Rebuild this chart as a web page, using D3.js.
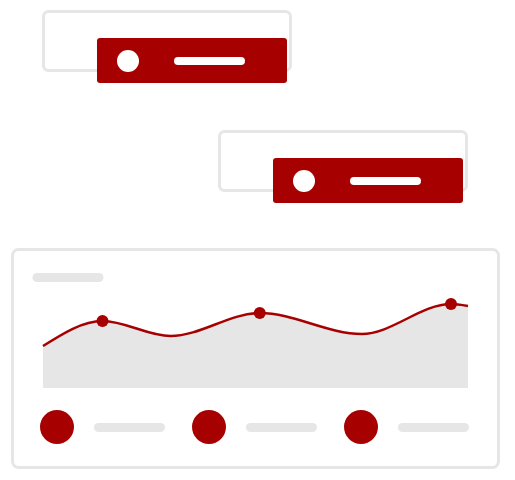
<!DOCTYPE html>
<html>
<head>
<meta charset="utf-8">
<script src="https://cdn.jsdelivr.net/npm/d3@7"></script>
<style>
  body { margin: 0; background: #fff; }
</style>
</head>
<body>
<script>
// wave values (0-100 units on both axes)
let waveX = [0, 14, 30, 51, 75, 96, 100];
let waveY = [42, 67, 52, 75, 54, 84, 82];
// which wave points get a marker dot
let markerIdx = [1, 3, 5];
// legend items below the chart
let legendItems = ["a", "b", "c"];
// notification cards
let cards = ["card1", "card2"];

let red = "#a60000";
let grey = "#e6e6e6";

let svg = d3.select("body")
            .append("svg")
            .attr("width", 515)
            .attr("height", 480);

/*
 *  C A R D S
 */
let cardPos = d3.scaleOrdinal().domain(cards).range([[42, 10], [218, 130]]);

let cardG = svg.selectAll("g.card")
               .data(cards)
               .enter()
               .append("g")
                 .attr("class", "card")
                 .attr("transform", d => "translate(" + cardPos(d)[0] + "," + cardPos(d)[1] + ")");

cardG.append("rect") // grey outline behind
     .attr("x", 1.5).attr("y", 1.5)
     .attr("width", 247).attr("height", 59)
     .attr("rx", 5)
     .style("fill", "#fff")
     .style("stroke", grey)
     .style("stroke-width", 3);

cardG.append("rect") // red banner
     .attr("x", 55).attr("y", 28)
     .attr("width", 190).attr("height", 45)
     .attr("rx", 3)
     .style("fill", red);

cardG.append("circle")
     .attr("cx", 86).attr("cy", 51)
     .attr("r", 11)
     .style("fill", "#fff");

cardG.append("line")
     .attr("x1", 136).attr("x2", 199)
     .attr("y1", 51).attr("y2", 51)
     .style("stroke", "#fff")
     .style("stroke-width", 8)
     .style("stroke-linecap", "round");

/*
 *  C H A R T   P A N E L
 */
svg.append("rect")
   .attr("x", 12.5).attr("y", 249.5)
   .attr("width", 486).attr("height", 218)
   .attr("rx", 6)
   .style("fill", "#fff")
   .style("stroke", grey)
   .style("stroke-width", 3);

// title placeholder
svg.append("line")
   .attr("x1", 37).attr("x2", 99)
   .attr("y1", 277.5).attr("y2", 277.5)
   .style("stroke", grey)
   .style("stroke-width", 9)
   .style("stroke-linecap", "round");

let xscale = d3.scaleLinear().domain([0, 100]).range([43, 468]);
let yscale = d3.scaleLinear().domain([0, 100]).range([388, 288]);

let pts = waveX.map((x, i) => ({x: x, y: waveY[i]}));

let area = d3.area()
             .x(d => xscale(d.x))
             .y0(yscale(0))
             .y1(d => yscale(d.y))
             .curve(d3.curveMonotoneX);
let line = d3.line()
             .x(d => xscale(d.x))
             .y(d => yscale(d.y))
             .curve(d3.curveMonotoneX);

svg.append("path")
   .datum(pts)
   .attr("d", area)
   .style("fill", grey);

svg.append("path")
   .datum(pts)
   .attr("d", line)
   .style("fill", "none")
   .style("stroke", red)
   .style("stroke-width", 2.5);

svg.selectAll("circle.marker")
   .data(markerIdx.map(i => pts[i]))
   .enter()
   .append("circle")
     .attr("class", "marker")
     .attr("cx", d => xscale(d.x))
     .attr("cy", d => yscale(d.y))
     .attr("r", 6)
     .style("fill", red);

/*
 *  L E G E N D
 */
let legendX = d3.scalePoint().domain(legendItems).range([57, 361]);

let leg = svg.selectAll("g.legend")
             .data(legendItems)
             .enter()
             .append("g")
               .attr("class", "legend")
               .attr("transform", d => "translate(" + legendX(d) + ",427)");

leg.append("circle")
   .attr("r", 17)
   .style("fill", red);

leg.append("line")
   .attr("x1", 41.5).attr("x2", 103.5)
   .attr("y1", 0.5).attr("y2", 0.5)
   .style("stroke", grey)
   .style("stroke-width", 9)
   .style("stroke-linecap", "round");
</script>
</body>
</html>
